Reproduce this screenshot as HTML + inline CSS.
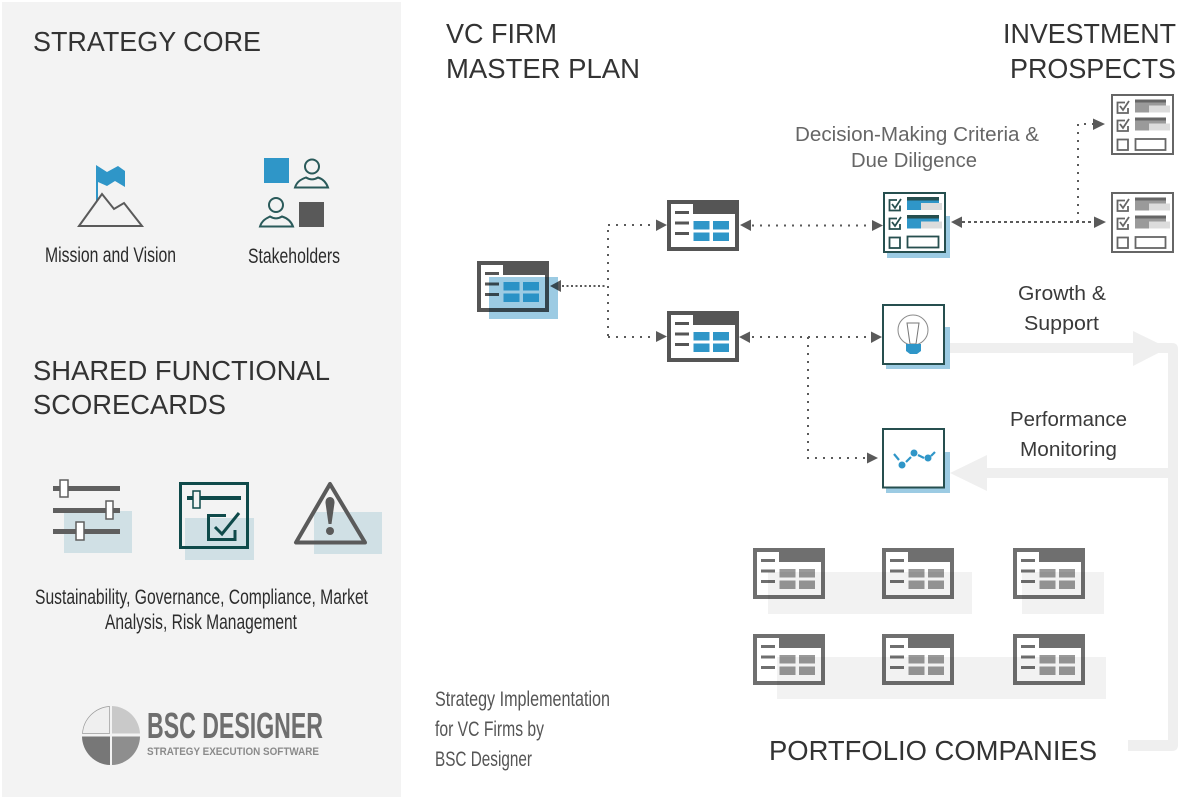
<!DOCTYPE html>
<html>
<head>
<meta charset="utf-8">
<style>
html,body{margin:0;padding:0;background:#fff;width:1200px;height:797px;overflow:hidden}
svg{display:block}
text{font-family:"Liberation Sans",sans-serif}
.h{font-size:28px;fill:#333}
.m{font-size:20px;fill:#3a3a3a}
.n{font-family:"Liberation Sans Narrow","Liberation Sans",sans-serif;font-size:21px;fill:#2c2c2c}
.d{fill:none;stroke:#5a5a5a;stroke-width:2;stroke-dasharray:2 6}
.a{fill:#5a5a5a}
</style>
</head>
<body>
<svg width="1200" height="797" viewBox="0 0 1200 797" xmlns="http://www.w3.org/2000/svg">
<defs>
<g id="win">
<path d="M0 0H72V51H0Z" fill="currentColor"/>
<path d="M4 4H26V14H68V47H4Z" fill="#fff"/>
<path d="M8 11H22V14H8ZM8 21.500H22V24.500H8ZM8 32H22V35H8Z" fill="currentColor"/>
</g>
<g id="cells">
<path d="M26.500 21H42.500V29.500H26.500ZM46 21H62V29.500H46ZM26.500 32.500H42.500V41H26.500ZM46 32.500H62V41H46Z"/>
</g>
<g id="chk">
<rect x="1" y="1" width="61" height="59" fill="#fff" stroke="#666" stroke-width="2"/>
<path d="M14 8.500H6.500V19H17V14M9 12L12 16L18 7M14 26.500H6.500V37H17V32M9 30L12 34L18 25" fill="none" stroke="#666" stroke-width="1.800"/>
<rect x="6.500" y="45.500" width="10.500" height="10.500" fill="none" stroke="#666" stroke-width="1.800"/>
<rect x="24" y="5.500" width="31" height="3" fill="#666"/>
<rect x="24" y="8.500" width="31" height="10" fill="#9a9a9a"/>
<rect x="38" y="11.500" width="21" height="7" fill="#dcdcdc"/>
<rect x="24" y="23.500" width="31" height="3" fill="#666"/>
<rect x="24" y="26.500" width="31" height="10" fill="#9a9a9a"/>
<rect x="38" y="29.500" width="21" height="7" fill="#dcdcdc"/>
<rect x="24.500" y="45" width="30" height="11" fill="none" stroke="#666" stroke-width="1.800"/>
</g>
<g id="port">
<use href="#win" color="#6f6f6f"/>
<use href="#cells" fill="#9a9a9a"/>
</g>
</defs>

<rect width="1200" height="797" fill="#fff"/>
<rect x="2" y="2" width="399" height="795" fill="#f3f3f3"/>

<!-- Left headings -->
<text class="h" x="33" y="51" textLength="228" lengthAdjust="spacingAndGlyphs">STRATEGY CORE</text>
<text class="h" x="33" y="380" textLength="297" lengthAdjust="spacingAndGlyphs">SHARED FUNCTIONAL</text>
<text class="h" x="33" y="414" textLength="193" lengthAdjust="spacingAndGlyphs">SCORECARDS</text>

<!-- Mission icon -->
<path d="M96 165L107 172L118 166L125 171V187L115 181L107 186L98 182V202H96Z" fill="#2f96c8"/>
<path d="M79 226L102 194L114 209L124 203L142 226Z" fill="#f3f3f3" stroke="#5a5a5a" stroke-width="2"/>
<text class="n" x="45" y="262" textLength="131" lengthAdjust="spacingAndGlyphs">Mission and Vision</text>

<!-- Stakeholders icon -->
<rect x="264" y="158" width="25" height="25" fill="#2f96c8"/>
<rect x="299" y="202" width="25" height="25" fill="#595959"/>
<g fill="none" stroke="#2a5a5a" stroke-width="2">
<circle cx="312" cy="166.500" r="7"/>
<path d="M295 187.500C297 181 302 179 306 177.500C310 180 314 180 318 177.500C323 179 326 182 328 187.500Z"/>
<circle cx="276" cy="205" r="7"/>
<path d="M260 226.500C262 220 267 218 270 216.500C274 219 278 219 282 216.500C287 218 291 221 293 226.500Z"/>
</g>
<text class="n" x="248" y="263" textLength="92" lengthAdjust="spacingAndGlyphs">Stakeholders</text>

<!-- Sliders icon -->
<rect x="64" y="511" width="68" height="42" fill="#d0e0e5"/>
<g fill="#5f5f5f">
<rect x="53" y="486" width="67" height="5"/>
<rect x="53" y="508" width="67" height="5"/>
<rect x="53" y="529" width="67" height="5"/>
</g>
<g fill="#fff" stroke="#5f5f5f" stroke-width="1.500">
<rect x="60" y="480" width="8" height="17"/>
<rect x="106" y="501" width="7" height="18"/>
<rect x="76" y="522" width="8" height="18"/>
</g>

<!-- Box slider icon -->
<rect x="185" y="518" width="69" height="42" fill="#d0e0e5"/>
<rect x="180.500" y="483.500" width="67" height="64" fill="none" stroke="#0f4a4a" stroke-width="3"/>
<rect x="187" y="496" width="54" height="4" fill="#0f4a4a"/>
<rect x="193" y="491" width="7" height="17" fill="#f3f3f3" stroke="#0f4a4a" stroke-width="1.500"/>
<path d="M226 515.500H208.500V539.500H235V530" fill="none" stroke="#0f4a4a" stroke-width="3"/>
<path d="M215 527L222 534L239 513" fill="none" stroke="#0f4a4a" stroke-width="3"/>

<!-- Warning icon -->
<rect x="314" y="512" width="68" height="42" fill="#d0e0e5"/>
<path d="M330 484L296 542.500H365Z" fill="none" stroke="#5a5a5a" stroke-width="4" stroke-linejoin="round"/>
<path d="M325.500 503C325 495 335 495 334.500 503L331.500 524H328.500Z" fill="#5a5a5a"/>
<circle cx="330" cy="531" r="4" fill="#5a5a5a"/>

<text class="n" x="35" y="604" textLength="333" lengthAdjust="spacingAndGlyphs">Sustainability, Governance, Compliance, Market</text>
<text class="n" x="105" y="629" textLength="192" lengthAdjust="spacingAndGlyphs">Analysis, Risk Management</text>

<!-- Logo -->
<path d="M109.500 706.500A29 29 0 0 0 82.500 733.500H109.500Z" fill="#efefef" stroke="#9a9a9a" stroke-width="0.700"/>
<path d="M112 706A29 29 0 0 1 140 733.500H112Z" fill="#c9c9c9"/>
<path d="M82 736.500H110V765A29 29 0 0 1 82 736.500Z" fill="#777"/>
<path d="M112 736.500H140A29 29 0 0 1 112 765Z" fill="#8e8e8e"/>
<text x="147" y="738" font-size="36" font-weight="700" fill="#6e6e6e" textLength="176" lengthAdjust="spacingAndGlyphs" style="font-family:'Liberation Sans Narrow','Liberation Sans',sans-serif">BSC DESIGNER</text>
<text x="147" y="755" font-size="11" font-weight="700" fill="#8a8a8a" textLength="172" lengthAdjust="spacingAndGlyphs">STRATEGY EXECUTION SOFTWARE</text>

<!-- Right headings -->
<text class="h" x="446" y="43" textLength="111" lengthAdjust="spacingAndGlyphs">VC FIRM</text>
<text class="h" x="446" y="78" textLength="194" lengthAdjust="spacingAndGlyphs">MASTER PLAN</text>
<text class="h" x="1003" y="43" textLength="173" lengthAdjust="spacingAndGlyphs">INVESTMENT</text>
<text class="h" x="1010" y="78" textLength="166" lengthAdjust="spacingAndGlyphs">PROSPECTS</text>
<text class="h" x="769" y="760" textLength="328" lengthAdjust="spacingAndGlyphs">PORTFOLIO COMPANIES</text>

<text class="m" x="795" y="141" style="fill:#666" textLength="244" lengthAdjust="spacingAndGlyphs">Decision-Making Criteria &amp;</text>
<text class="m" x="851" y="167" style="fill:#666" textLength="126" lengthAdjust="spacingAndGlyphs">Due Diligence</text>
<text class="m" x="1018" y="300" textLength="88" lengthAdjust="spacingAndGlyphs">Growth &amp;</text>
<text class="m" x="1024" y="330" textLength="75" lengthAdjust="spacingAndGlyphs">Support</text>
<text class="m" x="1010" y="426" textLength="117" lengthAdjust="spacingAndGlyphs">Performance</text>
<text class="m" x="1020" y="456" textLength="97" lengthAdjust="spacingAndGlyphs">Monitoring</text>

<text class="n" x="435" y="706" style="fill:#555" textLength="175" lengthAdjust="spacingAndGlyphs">Strategy Implementation</text>
<text class="n" x="435" y="736" style="fill:#555" textLength="109" lengthAdjust="spacingAndGlyphs">for VC Firms by</text>
<text class="n" x="435" y="766" style="fill:#555" textLength="97" lengthAdjust="spacingAndGlyphs">BSC Designer</text>

<!-- Wide grey arrows -->
<g fill="#efefef">
<path d="M950 343H1172Q1178 343 1178 349V745Q1178 751 1172 751H1128V740H1168V478H987V491L950 473L987 455V468H1168V353H950Z"/>
<path d="M1133 331L1168 348L1133 366Z"/>
</g>

<!-- Dotted connectors -->
<path class="d" d="M562 286H607" style="stroke-dasharray:2 2.500"/>
<path class="d" d="M608 336V225M608 225H656M608 337H656"/>
<path class="d" d="M752 225.500H870M752 337H870M808 337V458H868"/>
<path class="d" d="M962 222H1095" style="stroke-dasharray:3 3"/>
<path class="d" d="M1078 222V124H1094"/>
<g class="a">
<path d="M550 286L561 280V292Z"/>
<path d="M667 225L656 219.500V231Z"/>
<path d="M667 336.500L656 331V342Z"/>
<path d="M740 225L751 219.500V231Z"/>
<path d="M739 337L750 331.500V343Z"/>
<path d="M883 225.500L872 220V231Z"/>
<path d="M882 337L871 331.500V343Z"/>
<path d="M878 458L867 452.500V463.500Z"/>
<path d="M951 222L962 216.500V228Z"/>
<path d="M1106 222L1094 216.500V228Z"/>
<path d="M1105 124L1093 118.500V130Z"/>
</g>

<!-- Main window -->
<use href="#win" x="477" y="261" color="#555"/>
<use href="#cells" x="477" y="261" fill="#2f96c8"/>
<rect x="489" y="277" width="69" height="42" fill="#9ccbe3" style="mix-blend-mode:multiply"/>
<use href="#cells" x="477" y="261" fill="#2a92c6"/>

<!-- Middle windows -->
<use href="#win" x="667" y="200" color="#555"/>
<use href="#cells" x="667" y="200" fill="#2f96c8"/>
<use href="#win" x="667" y="311" color="#555"/>
<use href="#cells" x="667" y="311" fill="#2f96c8"/>

<!-- Decision checklist -->
<rect x="887" y="216" width="63" height="42" fill="#9ccbe3"/>
<rect x="884" y="193" width="61" height="59" fill="#fff" stroke="#264f4f" stroke-width="2"/>
<path d="M897 200H889.500V210.500H900V205.500M892 204L895 208L901 199M897 218.500H889.500V229H900V224M892 222L895 226L901 217" fill="none" stroke="#264f4f" stroke-width="1.800"/>
<rect x="889.500" y="237.500" width="10.500" height="10.500" fill="none" stroke="#264f4f" stroke-width="1.800"/>
<rect x="907" y="197" width="32" height="3.500" fill="#264f4f"/>
<rect x="907" y="200.500" width="32" height="9.500" fill="#2f96c8"/>
<rect x="921" y="203" width="21" height="7" fill="#dcdcdc"/>
<rect x="907" y="215" width="32" height="3.500" fill="#264f4f"/>
<rect x="907" y="218.500" width="32" height="10" fill="#2f96c8"/>
<rect x="921" y="221.500" width="21" height="7" fill="#dcdcdc"/>
<rect x="907.500" y="236.500" width="31" height="11" fill="none" stroke="#264f4f" stroke-width="1.800"/>

<!-- Prospect checklists -->
<use href="#chk" x="1111" y="94"/>
<use href="#chk" x="1111" y="192"/>

<!-- Bulb -->
<rect x="886" y="327" width="64" height="42" fill="#9ccbe3"/>
<rect x="883" y="305" width="61" height="59" fill="#fff" stroke="#264f4f" stroke-width="2"/>
<circle cx="913" cy="330" r="15" fill="none" stroke="#8a8a8a" stroke-width="1"/>
<path d="M907 323H919L916 344H910Z" fill="#fff" stroke="#777" stroke-width="1"/>
<path d="M906 344H921V351L917 354H910L906 351Z" fill="#2f96c8"/>

<!-- Monitor -->
<rect x="886" y="452" width="64" height="41" fill="#9ccbe3"/>
<rect x="883" y="429" width="61" height="58.500" fill="#fff" stroke="#264f4f" stroke-width="2"/>
<path d="M894 454L899 460M906 462L911 457M918 455L924 458M931 456L935 452" fill="none" stroke="#2f96c8" stroke-width="2.200"/>
<circle cx="902" cy="465" r="3.500" fill="#2f96c8"/>
<circle cx="914" cy="453" r="3.500" fill="#2f96c8"/>
<circle cx="928" cy="458" r="3.500" fill="#2f96c8"/>

<!-- Portfolio windows -->
<use href="#port" x="753" y="548"/>
<use href="#port" x="882" y="548"/>
<use href="#port" x="1013" y="548"/>
<use href="#port" x="753" y="634"/>
<use href="#port" x="882" y="634"/>
<use href="#port" x="1013" y="634"/>
<g fill="#f2f2f2" style="mix-blend-mode:multiply">
<rect x="768" y="572" width="204" height="42"/>
<rect x="1022" y="572" width="82" height="42"/>
<rect x="777" y="657" width="329" height="42"/>
</g>
</svg>
</body>
</html>
